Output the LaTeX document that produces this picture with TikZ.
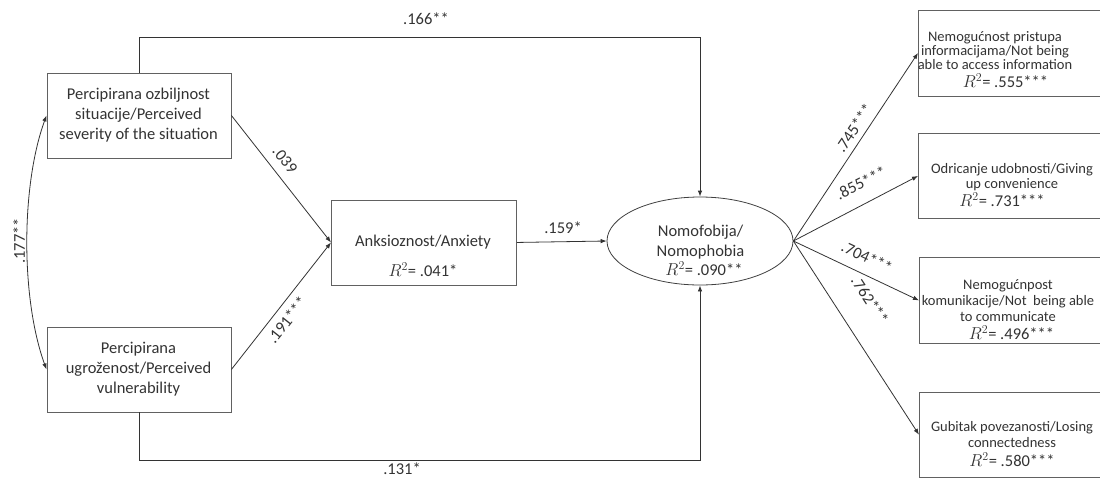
\documentclass[tikz,border=0pt]{standalone}
\usepackage{fontspec}
\setmainfont{Carlito}
\usetikzlibrary{shapes.geometric,arrows.meta,calc}
\begin{document}
\begin{tikzpicture}[x=1pt,y=1pt,
  every node/.style={text=black!80},
  box/.style={draw=black!62, line width=0.9pt, inner sep=0pt, anchor=north west},
  arr/.style={draw=black!80, line width=0.8pt, -{Latex[length=6pt,width=4.5pt]}},
  lbl/.style={font=\fontsize{16.5}{18}\selectfont, inner sep=0pt},
  big/.style={font=\fontsize{16.5}{20}\selectfont, align=center, inner sep=0pt},
  small/.style={font=\fontsize{14.5}{15}\selectfont, align=center, inner sep=0pt},
]
\useasboundingbox (0,0) rectangle (1100,-477);
\fill[white] (0,0) rectangle (1100,-477);

% boxes
\node[box, minimum width=184, minimum height=85] (b1) at (46.5,-72.5) {};
\node[box, minimum width=184, minimum height=85] (b2) at (46.5,-326.5) {};
\node[box, minimum width=185, minimum height=85] (anx) at (331,-199.5) {};
\node[draw=black!75, line width=0.8pt, ellipse, minimum width=186, minimum height=88, inner sep=0pt] (ell) at (700,-241) {};
\node[box, minimum width=192, minimum height=86] (rA) at (918,-9.5) {};
\node[box, minimum width=192, minimum height=85] (rB) at (918,-133) {};
\node[box, minimum width=192, minimum height=86] (rC) at (919,-257) {};
\node[box, minimum width=192, minimum height=84.5] (rD) at (919,-392) {};

% texts
\node[big] (t1) at (138.5,-115) {Percipirana ozbiljnost\\situacije/Perceived\\severity of the situation};
\node[big] (t2) at (138.5,-369.5) {Percipirana\\ugroženost/Perceived\\vulnerability};
\node[lbl] (t3) at (423,-242) {Anksioznost/Anxiety};
\node[lbl] (t3r) at (423,-270) {$R^2$= .041*};
\node[lbl] (te1) at (700.5,-232) {Nomofobija/};
\node[lbl] (te2) at (700.5,-252) {Nomophobia};
\node[lbl] (te3) at (704,-269) {$R^2$= .090**};

\node[small, font=\fontsize{14.5}{14}\selectfont] (tA) at (995,-50.5) {Nemogućnost pristupa\\informacijama/Not being\\able to access information};
\node[lbl] (tAr) at (1005.5,-80.5) {$R^2$= .555***};
\node[small] (tB) at (1012,-177.5) {Odricanje udobnosti/Giving\\up convenience};
\node[lbl] (tBr) at (1002,-200) {$R^2$= .731***};
\node[small, font=\fontsize{14.5}{16}\selectfont] (tC) at (1008,-301) {Nemogućnpost\\komunikacije/Not\ \ being able\\to communicate};
\node[lbl] (tCr) at (1011.5,-333) {$R^2$= .496***};
\node[small, font=\fontsize{14.5}{16}\selectfont] (tD) at (1012,-435) {Gubitak povezanosti/Losing\\connectedness};
\node[lbl] (tDr) at (1012,-460) {$R^2$= .580***};

% connectors
\coordinate (ty) at (0,-37.5);
\coordinate (by) at (0,-460);
\draw[arr] (b1.north) |- (ty -| ell.north) -- (ell.north);
\draw[arr] (b2.south) |- (by -| ell.south) -- (ell.south);
\draw[arr] (b1.east) -- (anx.west);
\draw[arr] (b2.east) -- (anx.west);
\draw[arr] (anx.east) -- (ell.west);
\draw[draw=black!80, line width=0.8pt, {Latex[length=6pt,width=4.5pt]}-{Latex[length=6pt,width=4.5pt]}]
  (b1.west) .. controls +(250:75) and +(110:75) .. (b2.west);
\draw[arr] (ell.east) -- (rA.west);
\draw[arr] (ell.east) -- (rB.west);
\draw[arr] (ell.east) -- (rC.west);
\draw[arr] (ell.east) -- (rD.west);

% labels
\node[lbl] (l166) at (426,-19) {.166**};
\node[lbl] (l131) at (402,-469) {.131*};
\node[lbl] (l159) at (563,-228) {.159*};
\node[lbl, rotate=-51] (l039) at (285,-160) {.039};
\node[lbl, rotate=51.5] (l191) at (287,-320) {.191***};
\node[lbl, rotate=90] (l177) at (19,-241) {.177**};
\node[lbl, rotate=56] (l745) at (854,-128) {.745***};
\node[lbl, rotate=26.4] (l855) at (861,-183) {.855***};
\node[lbl, rotate=-25.3] (l704) at (867,-257) {.704***};
\node[lbl, rotate=-56.8] (l762) at (870,-300) {.762***};
\end{tikzpicture}
\end{document}
